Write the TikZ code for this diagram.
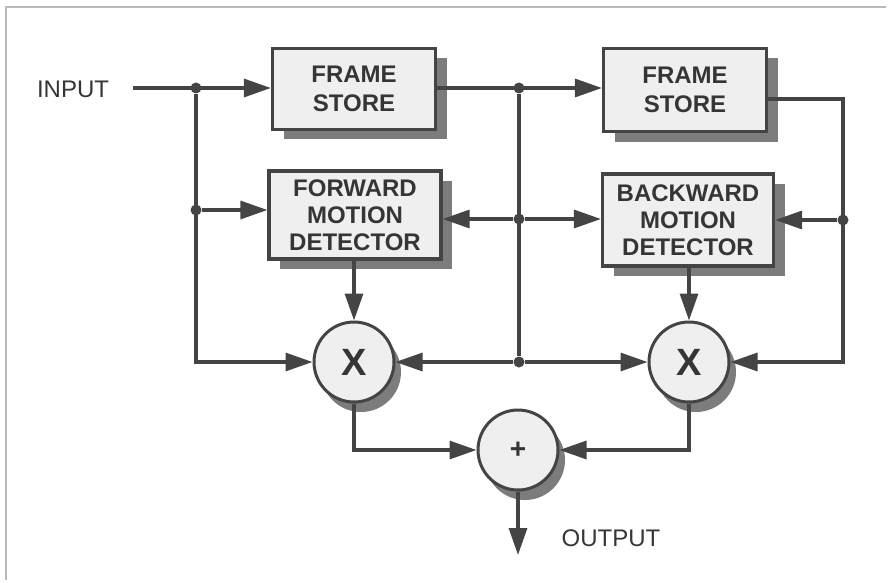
\documentclass[tikz,border=0pt]{standalone}
\usepackage{fontspec}
\setmainfont{Liberation Sans}
\usetikzlibrary{shapes,arrows.meta,positioning,shadows}
\definecolor{linegray}{HTML}{444444}
\definecolor{boxgray}{HTML}{EFEFEF}
\definecolor{shadegray}{HTML}{7C7C7C}
\definecolor{textgray}{HTML}{353535}

\begin{document}
\begin{tikzpicture}[x=1pt,y=-1pt]
      \tikzstyle{block} = [rectangle, draw=linegray, line width=3.2pt, fill=boxgray, text=textgray, font=\fontsize{24}{27}\selectfont\bfseries, align=center, inner sep=0pt, drop shadow={shadow xshift=11pt, shadow yshift=-10pt, fill=shadegray, opacity=1}]
      \tikzstyle{mixer} = [circle, draw=linegray, line width=3pt, fill=boxgray, text=textgray, minimum size=80pt, inner sep=0pt, drop shadow={shadow xshift=7pt, shadow yshift=-10pt, fill=shadegray, opacity=1}]
      \tikzstyle{wire} = [draw=linegray, line width=3.2pt]
      \tikzstyle{feed} = [wire, -{Triangle[length=27pt,width=18pt]}]
      \tikzstyle{dot} = [circle, fill=linegray, minimum size=11pt, inner sep=0pt]
      \tikzstyle{iolabel} = [text=textgray, font=\fontsize{24}{28}\selectfont]

      \useasboundingbox (0,0) rectangle (891,583);
      \draw[gray!55, line width=1.5pt] (6,580) -- (6,7) -- (886,7);

      \node[iolabel] (inp) at (73,89) {INPUT};
      \node[block, minimum width=163pt, minimum height=81pt] (fs1) at (354,89) {FRAME\\[2pt]STORE};
      \node[block, minimum width=163pt, minimum height=83pt] (fs2) at (685,90) {FRAME\\[2pt]STORE};
      \node[block, minimum width=172pt, minimum height=88pt] (fmd) at (355,215) {FORWARD\\MOTION\\DETECTOR};
      \node[block, minimum width=171pt, minimum height=92pt] (bmd) at (688,220) {BACKWARD\\MOTION\\DETECTOR};
      \node[mixer, font=\fontsize{38}{38}\selectfont\bfseries] (x1) at (354,362) {X};
      \node[mixer, font=\fontsize{38}{38}\selectfont\bfseries] (x2) at (689,362) {X};
      \node[mixer, font=\fontsize{28}{28}\selectfont\bfseries] (sum) at (518,450) {+};
      \node[iolabel] (outp) at (611,538) {OUTPUT};

      % branch points
      \node[dot] (j1) at (196,88) {};
      \node[dot] (j2) at (196,210) {};
      \node[dot] (m1) at (519,88) {};
      \node[dot] (m2) at (519,219) {};
      \node[dot] (m3) at (519,362) {};
      \node[dot] (r1) at (843,220) {};
      \coordinate (in0) at (133,88);
      \coordinate (c2) at (843,99);
      \coordinate (out0) at (518,555);

      \draw[feed] (in0) -- (fs1.west |- in0);
      \draw[feed] (fs1.east |- m1) -- (fs2.west |- m1);
      \draw[feed] (j2) -- (fmd.west |- j2);
      \draw[feed] (m2) -- (fmd.east |- m2);
      \draw[feed] (m2) -- (bmd.west |- m2);
      \draw[feed] (r1) -- (bmd.east |- r1);
      \draw[feed] (j1) |- (x1.west);
      \draw[wire] (m1) -- (m3);
      \draw[feed] (m3) -- (x1.east);
      \draw[feed] (m3) -- (x2.west);
      \draw[feed] (fs2.east |- c2) -- (c2) |- (x2.east);
      \draw[feed] (fmd.south -| x1) -- (x1.north);
      \draw[feed] (bmd.south -| x2) -- (x2.north);
      \draw[feed] (x1.south) |- (sum.west);
      \draw[feed] (x2.south) |- (sum.east);
      \draw[feed] (sum) -- (out0);
\end{tikzpicture}
\end{document}
